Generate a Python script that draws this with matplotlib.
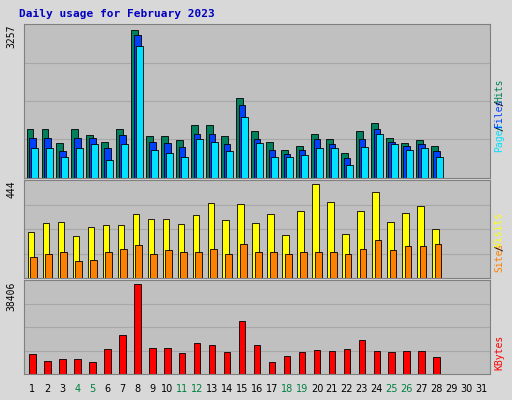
import numpy as np
import matplotlib
matplotlib.use('Agg')
import matplotlib.pyplot as plt

days = list(range(1, 32))
ndata = 28
weekend = [4, 5, 11, 12, 18, 19, 25, 26]

# values
hits = [1070, 1070, 780, 1070, 940, 800, 1070, 3257, 920, 920, 830, 1160, 1160, 920, 1770, 1030, 800, 620, 710, 960, 870, 540, 1030, 1210, 890, 780, 830, 710]
files = [890, 890, 600, 890, 890, 650, 940, 3150, 800, 780, 690, 980, 980, 760, 1610, 870, 620, 530, 620, 870, 740, 450, 870, 1090, 800, 710, 740, 600]
pages = [670, 670, 470, 670, 740, 400, 760, 2900, 620, 560, 470, 850, 800, 600, 1340, 780, 470, 470, 510, 650, 670, 290, 690, 960, 760, 620, 670, 470]
visits = [217, 261, 266, 198, 241, 251, 251, 304, 280, 280, 256, 299, 352, 275, 348, 261, 304, 203, 318, 444, 357, 207, 318, 405, 266, 309, 338, 232]
sites = [97, 111, 125, 82, 87, 125, 135, 154, 111, 130, 125, 121, 135, 111, 159, 125, 125, 111, 121, 125, 125, 111, 135, 178, 130, 149, 149, 159]
kbytes = [8630, 5610, 6470, 6470, 5180, 10790, 16400, 38406, 11220, 11220, 9060, 13380, 12520, 9490, 22440, 12520, 5180, 7770, 9490, 10360, 9930, 10790, 14670, 9930, 9490, 9930, 9930, 7340]

BG = '#C0C0C0'
fig = plt.figure(figsize=(5.12, 4.0), dpi=100, facecolor='#D8D8D8')
mono = 'DejaVu Sans Mono'
fig.text(0.037, 0.958, 'Daily usage for February 2023', color='#0000C0',
         fontsize=8, fontweight='bold', family=mono)

x = np.arange(1, ndata + 1)
w = 0.45
off = 0.16

def panel(rect, top):
    ax = fig.add_axes(rect, facecolor=BG)
    ax.set_xlim(0.45, 31.55)
    ax.set_ylim(0, top)
    ax.set_xticks([])
    ax.set_yticks([])
    for f in (0.25, 0.5, 0.75):
        ax.axhline(top * f, color='#A8A8A8', lw=0.8, zorder=0)
    for s in ax.spines.values():
        s.set_color('#808080')
    return ax

# top panel
ax1 = panel([0.047, 0.555, 0.91, 0.385], 3257 / 0.96)
ax1.bar(x - off, hits, w, color='#00805C', edgecolor='black', lw=0.6)
ax1.bar(x, files, w, color='#0040FF', edgecolor='black', lw=0.6)
ax1.bar(x + off, pages, w, color='#00E0FF', edgecolor='black', lw=0.6)
fig.text(0.022, 0.94, '3257', rotation=90, fontsize=7, family=mono, va='top', ha='center')

# middle panel
ax2 = panel([0.047, 0.305, 0.91, 0.245], 444 / 0.96)
ax2.bar(x - off / 2, visits, w, color='#FFFF00', edgecolor='black', lw=0.6)
ax2.bar(x + off / 2, sites, w, color='#FF8000', edgecolor='black', lw=0.6)
fig.text(0.022, 0.548, '444', rotation=90, fontsize=7, family=mono, va='top', ha='center')

# bottom panel
ax3 = panel([0.047, 0.065, 0.91, 0.235], 38406 / 0.96)
ax3.bar(x, kbytes, w, color='#FF0000', edgecolor='black', lw=0.6)
fig.text(0.022, 0.297, '38406', rotation=90, fontsize=7, family=mono, va='top', ha='center')

# day labels
for d in days:
    xf = 0.047 + 0.91 * (d - 0.45) / 31.1
    fig.text(xf, 0.027, str(d), fontsize=7, ha='center', va='center',
             color='#008040' if d in weekend else 'black')

# right side legends, read bottom to top
def side(items, ybot):
    y = ybot
    for txt, col in items:
        fig.text(0.975, y, txt, rotation=90, fontsize=7, family=mono,
                 color=col, ha='center', va='bottom')
        y += len(txt) * 0.0105
side([('Pages', '#00E0FF'), ('/', 'black'), ('Files', '#0040FF'), ('/', 'black'), ('Hits', '#00805C')], 0.62)
side([('Sites', '#FF8000'), ('/', 'black'), ('Visits', '#FFFF00')], 0.32)
side([('KBytes', '#FF0000')], 0.075)

fig.savefig('out.png', dpi=100, facecolor=fig.get_facecolor())
